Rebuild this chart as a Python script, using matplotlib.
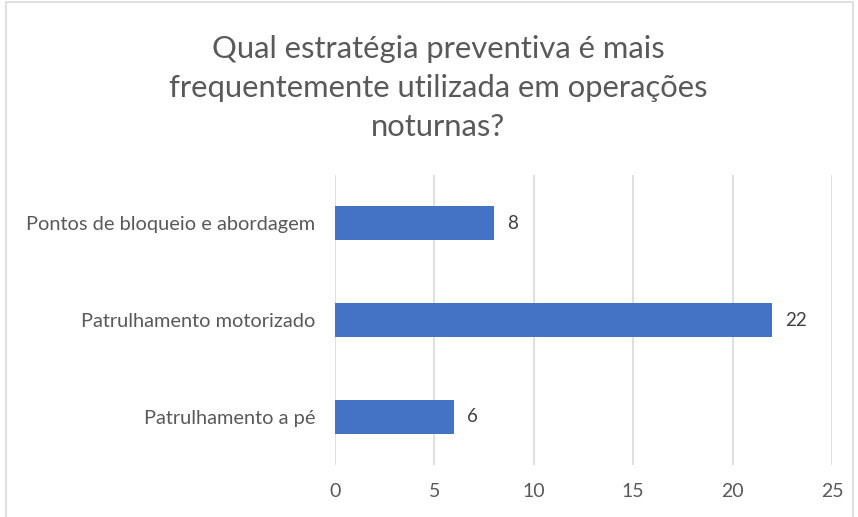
import matplotlib
matplotlib.use("Agg")
import matplotlib.pyplot as plt
from matplotlib.patches import Rectangle

categories = ["Patrulhamento a pé", "Patrulhamento motorizado", "Pontos de bloqueio e abordagem"]
values = [6, 22, 8]
xticks = [0, 5, 10, 15, 20, 25]
title = "Qual estratégia preventiva é mais\nfrequentemente utilizada em operações\nnoturnas?"

plt.rcParams['font.family'] = ['Lato', 'DejaVu Sans']
text_color = "#595959"

fig = plt.figure(figsize=(8.58, 5.17), dpi=100)
fig.patches.append(Rectangle((6/858, -0.1), (853-6)/858, 1.1 - 2/517, transform=fig.transFigure,
                             fill=False, edgecolor="#D9D9D9", linewidth=1.2))
ax = fig.add_axes([335/858, 1-465/517, (832-335)/858, (465-175)/517])

y = list(range(len(categories)))
ax.barh(y, values, height=0.35, color="#4472C4", zorder=3)
for yi, v in zip(y, values):
    ax.text(v + 0.65, yi, str(v), va="center", ha="left", fontsize=13.5, color="#404040")

ax.set_xlim(0, 25)
ax.set_ylim(-0.5, len(categories) - 0.5)
ax.set_xticks(xticks)
ax.set_yticks(y)
ax.set_yticklabels(categories)
ax.tick_params(axis='both', length=0, labelsize=14, labelcolor=text_color)
ax.tick_params(axis='y', labelsize=14.4, pad=14)
ax.tick_params(axis='x', pad=13)
ax.grid(axis='x', color="#D9D9D9", linewidth=1.2, zorder=0)
for s in ax.spines.values():
    s.set_visible(False)

fig.text(438/858, 1-88/517, title, ha="center", va="center", fontsize=22.3,
         color=text_color, linespacing=1.47)

fig.savefig("out.png", dpi=100)
